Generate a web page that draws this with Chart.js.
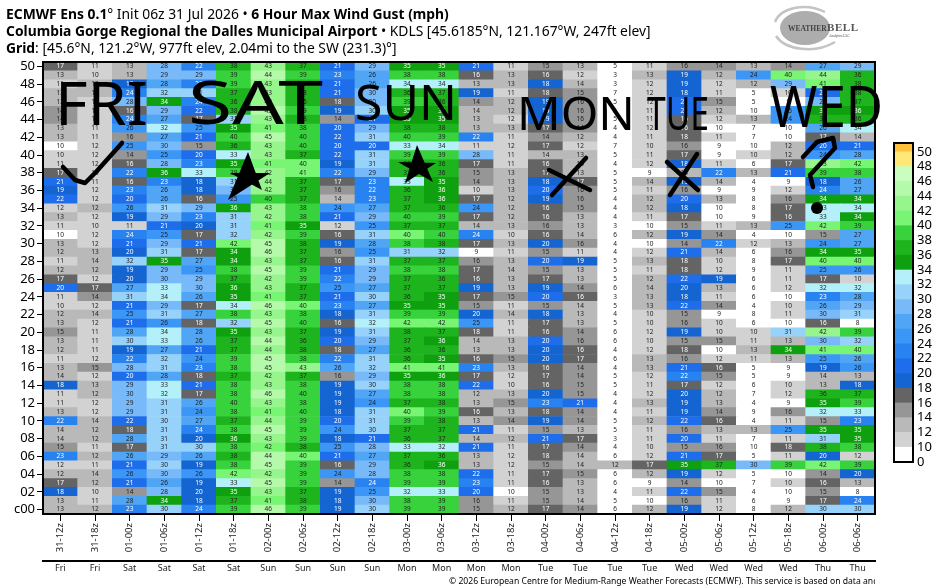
<!DOCTYPE html>
<html>
<head>
<meta charset="utf-8">
<title>ECMWF Ens 6 Hour Max Wind Gust</title>
<script src="https://cdn.jsdelivr.net/npm/chart.js@4"></script>
<style>
  body { margin: 0; background: #fff; width: 936px; height: 586px; overflow: hidden; position: relative; font-family: "Noto Sans", sans-serif; color: #000; }
  canvas { position: absolute; }
  #head { position: absolute; left: 6px; top: 5px; font-size: 13.85px; line-height: 17px; white-space: nowrap; }
  #foot { position: absolute; left: 449px; top: 575px; width: 426px; height: 12px; overflow: hidden; font-size: 8.6px; line-height: 12px; white-space: nowrap; }
  svg { position: absolute; left: 0; top: 0; }
</style>
</head>
<body>
<canvas id="gust" width="936" height="586" style="left:0;top:0"></canvas>
<canvas id="bar" width="51" height="345" style="left:885px;top:130px"></canvas>
<div id="head">
  <div><b>ECMWF Ens 0.1</b>° Init 06z 31 Jul 2026 • <b>6 Hour Max Wind Gust (mph)</b></div>
  <div><b>Columbia Gorge Regional the Dalles Municipal Airport</b> • KDLS [45.6185°N, 121.167°W, 247ft elev]</div>
  <div><b>Grid</b>: [45.6°N, 121.2°W, 977ft elev, 2.04mi to the SW (231.3)°]</div>
</div>
<div id="foot">© 2026 European Centre for Medium-Range Weather Forecasts (ECMWF). This service is based on data and products</div>

<svg width="936" height="586">
  <!-- logo -->
  <path d="M775,22 C780,8 805,2 825,12" fill="none" stroke="#c4c4c4" stroke-width="2.5"/>
  <path d="M776,36 C785,50 815,54 835,42" fill="none" stroke="#c4c4c4" stroke-width="2.5"/>
  <ellipse cx="805" cy="28" rx="25" ry="17" fill="#adadad"/>
  <text x="788" y="31" font-family="Liberation Serif" font-size="7.5" font-weight="bold" fill="#444">WEATHER</text>
  <text x="827" y="31" font-family="Liberation Serif" font-size="11" font-weight="bold" fill="#555" textLength="31">BELL</text>
  <text x="829" y="37" font-family="Liberation Serif" font-size="3.5" fill="#444">Analytics LLC</text>
  <!-- marker scribbles on the plot -->
  <g font-family="Noto Sans" fill="#000">
    <text x="55" y="125" font-size="60" textLength="93" lengthAdjust="spacingAndGlyphs">FRI</text>
    <text x="188" y="124" font-size="60" textLength="135" lengthAdjust="spacingAndGlyphs">SAT</text>
    <text x="355" y="120" font-size="50" textLength="102" lengthAdjust="spacingAndGlyphs">SUN</text>
    <text x="517" y="130" font-size="46" textLength="118" lengthAdjust="spacingAndGlyphs">MON</text>
    <text x="647" y="130" font-size="46" textLength="62" lengthAdjust="spacingAndGlyphs">TUE</text>
    <text x="770" y="127" font-size="56" textLength="113" lengthAdjust="spacingAndGlyphs">WED</text>
  </g>
  <g fill="none" stroke="#000" stroke-width="4.5" stroke-linecap="round" stroke-linejoin="round">
    <path d="M63,167 L75,180 L85,183 L96,172 L122,143"/>
    <path d="M549,170 L590,190 M586,158 L552,195"/>
    <path d="M667,162 L698,190 M697,154 L670,195"/>
    <path d="M803,157 L817,142 L833,138 L835,148 L810,175 L813,187"/>
  </g>
  <path d="M228,200 L248,152 L262,190 L230,173 L270,173 Z" fill="#000"/>
  <path d="M405,183 L417,145 L433,182 L398,162 L436,163 Z" fill="#000"/>
  <circle cx="817" cy="208" r="6" fill="#000"/>
</svg>

<script>
const runs = ["31-12z","31-18z","01-00z","01-06z","01-12z","01-18z","02-00z","02-06z","02-12z","02-18z","03-00z","03-06z","03-12z","03-18z","04-00z","04-06z","04-12z","04-18z","05-00z","05-06z","05-12z","05-18z","06-00z","06-06z"];
const days = ["Fri","Fri","Sat","Sat","Sat","Sat","Sun","Sun","Sun","Sun","Mon","Mon","Mon","Mon","Tue","Tue","Tue","Tue","Wed","Wed","Wed","Wed","Thu","Thu"];

// gust per ensemble member, in mph. Tenths only say which colour bin a rounded value falls in
const m50 = [17,11,13,28.4,22.4,37.6,43,37,21,29,35,35,21,11,15,13,5,11,15.6,14.4,13,14.4,27,29];
const m49 = [13,10.4,13,29,29,39,44.4,39,23,26.4,38.4,38.4,16.4,13,16.4,11.6,3,13,19,12.4,24.4,40.4,43.6,36.4];
const m48 = [11,13,19,27.6,23,39,43,37.6,21,26.4,33.6,33.6,13,13,18.4,13.6,3,11.6,19,11.6,12.4,29,41,37.6];
const m47 = [13,13.6,23.6,31.6,31,37,43,37.6,21,29.6,36.4,37,19,11,17.6,15,7,11.6,18.4,11,5,10.4,21,37.6];
const m46 = [12.4,11.6,28.4,34.4,23.6,36.4,43,36.4,17.6,29.6,39,36.4,14.4,12.4,19,15.6,5,11.6,21,15,5,9,29,37];
const m45 = [14.4,10.4,16.4,29,21.6,37.6,45,39,19,30.4,35,35,13.6,12.4,19,15.6,5,11,21,12.4,9.6,25,35,35.6];
const m44 = [14.4,11,23.6,27,17,31,43,37.6,14.4,21,35,35,13,11.6,19,15.6,5,11,16.4,11.6,13,24.4,36.4,36.4];
const m43 = [13,11,25.6,32.4,25,35,41,38.4,20.4,29,37.6,37.6,13,13,17,14.4,4,11.6,16.4,9.6,7,9.6,26.4,33.6];
const m42 = [13,11,15.6,27,21,39.6,45,39.6,21.6,31,39.6,39,22.4,11,14.4,12.4,4,11,17.6,11,7,9.6,17,13.6];
const m41 = [9.6,11.6,25,29.6,15,36.4,43,39.6,20.4,20.4,33,33.6,11,11.6,17,11.6,7,10.4,15.6,9,9.6,12.4,20.4,21];
const m40 = [10.4,11.6,14.4,25,20.4,33,43,37,21.6,31,39,39,28.4,11,13.6,13,5,11,17,9,10.4,12.4,24.4,27.6];
const m39 = [11,11.6,16.4,28.4,23,35,41,40.4,19,31,36.4,36.4,17,11,16.4,13,4,11.6,18.4,11,6,17,43,41.6];
const m38 = [17,10.4,22.4,35.6,33,39,42.4,41,22.4,29,37,36.4,15,13,17,13,5,9,13.6,22.4,13,21,39,38.4];
const m37 = [21,11,16.4,23,18.4,31,43.6,37,17,23,33,35,14.4,13,18.4,17,5,13.6,19,13.6,4,9,18.4,26.4];
const m36 = [19,11.6,23,26.4,18.4,29.6,42.4,37,15.6,22.4,36.4,35.6,10.4,13,20.4,15.6,5,11,15.6,9,9,11.6,23.6,27];
const m35 = [21.6,11.6,20.4,26.4,16.4,25,39.6,37,13.6,23,37,35.6,17,12.4,19,15.6,4,12.4,20.4,13,8,15.6,34.4,34.4];
const m34 = [11.6,12.4,25.6,31,29,35.6,43,38.4,24.4,27,37,36.4,24.4,12.4,16.4,15,4,12.4,18.4,9.6,8,17,33,33.6];
const m33 = [13,11.6,19,29,23,31,42.4,38.4,21,29,39.6,39,17,12.4,16.4,13,4,11,17,9.6,9,16.4,33,34.4];
const m32 = [11,10.4,11,21,19.6,31,41,35,11.6,25,37,37,13.6,13,15.6,13,3,9.6,15,11,13,25,41.6,39];
const m31 = [9.6,11.6,23.6,25,17,31.6,42.4,39,16.4,31,40.4,39.6,23.6,10.4,16.4,13.6,6,12.4,19,14.4,4,9.6,15,27];
const m30 = [13,11.6,21,29,21,41.6,45,37.6,19,27.6,38.4,37.6,17,13,19.6,15.6,4,9.6,14.4,22.4,11.6,13,24.4,27];
const m29 = [12.4,13,19.6,31,17,34.4,45.6,37,15.6,25,31,31.6,9,11,15,11,4,11.6,21,13.6,6,15.6,34.4,35];
const m28 = [11,13.6,31.6,35,27,34.4,43,37,16.4,31,37,37,15.6,13,20.4,19,5,13,17.6,10.4,8,17,40.4,40.4];
const m27 = [12.4,12.4,19,29,25,38.4,45,39,21,29,38.4,38.4,17,13.6,15,13,5,11,17.6,11.6,9,11,25,25.6];
const m26 = [17,11.6,19.6,29.6,29,37,42.4,39,22.4,29,37,36.4,16.4,13,17,13,5,12.4,21.6,19,6,11,17,10.4];
const m25 = [20.4,17,27,33,29.6,35.6,43,37,25,27,37,37,19,13,19,14.4,6,13.6,19.6,13,6,11.6,32.4,32.4];
const m24 = [11,14.4,31,33.6,26.4,35,41,37,21,30.4,36.4,35,17,15,20.4,16.4,3,13,18.4,11,6,9.6,23,27.6];
const m23 = [10.4,11.6,21,29,17,33.6,45.6,40.4,23,27,35,35,15,11,15,13.6,5,13,21.6,14.4,4,10.4,26.4,29];
const m22 = [12.4,13.6,25,31,27,38.4,43,38.4,18.4,31,39,39,19.6,13.6,18.4,13,4,10.4,15,9,8,11,29.6,31];
const m21 = [13,11.6,21,25.6,17.6,31.6,45,39.6,16.4,32.4,41.6,41.6,25,11,17,13,5,10.4,15.6,10.4,6,9.6,16.4,8];
const m20 = [15,11,27.6,33.6,27.6,35,43,37,19,31,37.6,37,17.6,11,16.4,14.4,6,11.6,19,10.4,10.4,31,42.4,39];
const m19 = [13,11,30.4,33,26.4,37,44.4,36.4,20.4,29,37,35.6,13.6,13,20.4,15.6,6,10.4,15,15,11,13,29.6,31.6];
const m18 = [12.4,11,19,27,21,37,43.6,37.6,17.6,27,36.4,36.4,13,13,19.6,16.4,4,11.6,17.6,9.6,13,34.4,41,40.4];
const m17 = [11,11.6,22.4,31.6,24.4,39,45,38.4,22.4,31,36.4,35,16.4,15,19.6,17,6,13,15.6,11.6,11,13,25,26.4];
const m16 = [13,15,28.4,31,23,38.4,45,43,26.4,31.6,41,41,23,13,16.4,14.4,4,13,21,16.4,5,9,19,25.6];
const m15 = [13.6,11.6,20.4,27.6,17.6,37,42.4,37,15.6,29,35,35.6,17,11.6,17,14.4,5,11.6,22.4,15,5,9,13.6,13];
const m14 = [18.4,13,29,33,21,38.4,43,38.4,19,30.4,38.4,38.4,21.6,10.4,16.4,15,5,11,17,11.6,6,10.4,13,18.4];
const m13 = [11,12.4,29.6,32.4,17,38.4,45.6,39.6,19,27,38.4,38.4,12.4,13,19.6,15,4,11.6,19.6,12.4,7,11.6,36.4,37];
const m12 = [11,11.6,29,31,26.4,39.6,43,38.4,19,24.4,37,37.6,13,15,23,21,4,13,19,13,4,9,35,39];
const m11 = [13,11.6,29,31,24.4,38.4,41,39.6,18.4,31,40.4,39,16.4,13,17.6,14.4,4,11,19,14.4,9,15.6,32.4,33];
const m10 = [22.4,13.6,21.6,30.4,27,37,43.6,39,20.4,31,39,37.6,13,14.4,19,14.4,5,12.4,21.6,16.4,4,11,15,23];
const m09 = [13.6,12.4,17.6,31,23.6,38.4,45,39,24.4,30.4,37,37,21,11,15,13,5,11,15.6,13,13,25,35,35];
const m08 = [13.6,12.4,27.6,31,19.6,35.6,43,39,18.4,21,36.4,37,13.6,12.4,21,17,3,11,20.4,11,7,11,31,35];
const m07 = [15,11,17,31,30.4,38.4,41.6,37.6,25,28.4,33,32.4,21,11,17,14.4,4,10.4,15,15.6,9.6,17.6,37.6,38.4];
const m06 = [23,12.4,26.4,29,26.4,37.6,44.4,40.4,21,27,37,36.4,13,11.6,17.6,13.6,6,11.6,21,17,5,11,19.6,11.6];
const m05 = [11.6,11,21,30.4,19,38.4,45,39,16.4,29,36.4,35.6,13,11.6,15,13.6,12.4,17,35,37,29.6,39,41.6,39];
const m04 = [12.4,13.6,25.6,29.6,25.6,41.6,42.4,39,24.4,28.4,38.4,38.4,21.6,11,17,15,6,12.4,19,11.6,5,9.6,14.4,19.6];
const m03 = [17,12.4,21,26.4,19,33,45,39,14.4,23.6,39,39,23,11,16.4,13,6,9,14.4,9.6,7,10.4,16.4,13];
const m02 = [18.4,10.4,14.4,28.4,19.6,35,43,37,19,25,32.4,33,20.4,9.6,15,13,4,11,21.6,15,4,9.6,15,8];
const m01 = [13,11,27.6,34.4,18.4,37,41,37.6,18.4,29.6,38.4,39,15.6,11,15,13.6,5,9.6,15.6,11,6,9,17,23.6];
const m00 = [13,12.4,23,30.4,23.6,39,45.6,39,19,30.4,39,39,15,12.4,17,14.4,6,12.4,19,11.6,8,12.4,30.4,30.4];

const members = [m00,m01,m02,m03,m04,m05,m06,m07,m08,m09,m10,m11,m12,m13,m14,m15,m16,m17,m18,m19,m20,m21,m22,m23,m24,m25,m26,m27,m28,m29,m30,m31,m32,m33,m34,m35,m36,m37,m38,m39,m40,m41,m42,m43,m44,m45,m46,m47,m48,m49,m50];

// colour scale: binEdges[i] is the lower edge of binColors[i]
const binEdges = [0,10,12,14,16,18,20,22,24,26,28,30,32,34,36,38,40,42,44,46,48,50];
const binColors = ["#ffffff","#d2d2d2","#b9b9b9","#969696","#646464","#1464d2","#1e6eeb","#2882f0","#3c96f5","#50a5f5","#78b9fa","#96d2fa","#b4f0fa","#0fa00f","#1eb41e","#37d23c","#78f573","#96f58c","#b4faaa","#c8ffbe","#ffe878","#ffc03c"];

const binOf = (v) => {
  let i = 0;
  while (i + 1 < binEdges.length && v >= binEdges[i + 1]) i++;
  return i;
};
const textColor = (v) => ((v >= 16 && v < 24) || (v >= 34 && v < 36) ? "#fff" : "#222");

const cellLabels = {
  id: "cellLabels",
  afterDatasetsDraw(chart) {
    const ctx = chart.ctx;
    ctx.save();
    ctx.font = '6.5px "Noto Sans"';
    ctx.textAlign = "center";
    ctx.textBaseline = "middle";
    members.forEach((row, r) => {
      chart.getDatasetMeta(r).data.forEach((el, c) => {
        const p = el.getCenterPoint();
        ctx.fillStyle = textColor(row[c]);
        ctx.fillText(Math.round(row[c]), p.x, p.y);
      });
    });
    ctx.restore();
  },
};

const frame = {
  id: "frame",
  afterDraw(chart) {
    const a = chart.chartArea;
    const ctx = chart.ctx;
    ctx.save();
    ctx.strokeStyle = "#000";
    ctx.lineWidth = 2;
    ctx.strokeRect(a.left, a.top, a.right - a.left, a.bottom - a.top);
    ctx.restore();
  },
};

new Chart(document.getElementById("gust"), {
  type: "bar",
  data: {
    labels: runs,
    datasets: members.map((row, r) => ({
      data: row.map(() => [r - 0.5, r + 0.5]),
      backgroundColor: row.map((v) => binColors[binOf(v)]),
      borderWidth: 0,
      grouped: false,
      barPercentage: 1,
      categoryPercentage: 1,
      xAxisID: "x",
      yAxisID: "y",
    })),
  },
  plugins: [cellLabels, frame],
  options: {
    responsive: false,
    animation: false,
    layout: { padding: { top: 62, right: 61, left: 0, bottom: 0 } },
    plugins: { legend: { display: false }, tooltip: { enabled: false } },
    scales: {
      x: {
        position: "bottom",
        grid: { drawOnChartArea: false, offset: false, color: "#000", tickLength: 7 },
        border: { display: false },
        ticks: {
          autoSkip: false,
          minRotation: 90,
          maxRotation: 90,
          padding: 2,
          color: "#222",
          font: { family: "Noto Sans", size: 9.5 },
        },
        afterFit: (s) => { s.height = 47; },
      },
      x2: {
        type: "category",
        labels: days,
        offset: true,
        position: "bottom",
        grid: { display: false, drawTicks: false },
        border: { display: true, color: "#000", width: 2 },
        ticks: {
          autoSkip: false,
          maxRotation: 0,
          padding: 2,
          color: "#222",
          font: { family: "Noto Sans", size: 9 },
        },
        afterFit: (s) => { s.height = 25; },
      },
      y: {
        min: -0.5,
        max: 50.5,
        grid: { drawOnChartArea: false, color: "#000", tickLength: 6 },
        border: { display: false },
        ticks: {
          stepSize: 2,
          includeBounds: false,
          autoSkip: false,
          padding: 2,
          color: "#000",
          font: { family: "Noto Sans", size: 13 },
          callback: (v) => (v === 0 ? "c00" : String(v).padStart(2, "0")),
        },
        afterFit: (s) => { s.width = 43; },
      },
    },
  },
});

// colour bar, one box per bin. The top box is cut short
const topBoxTop = binEdges.length - 1 + 0.6;
new Chart(document.getElementById("bar"), {
  type: "bar",
  data: {
    labels: [""],
    datasets: binColors.map((color, i) => ({
      data: [[i, Math.min(i + 1, topBoxTop)]],
      backgroundColor: color,
      borderWidth: 0,
      grouped: false,
      barPercentage: 1,
      categoryPercentage: 1,
    })),
  },
  plugins: [frame],
  options: {
    responsive: false,
    animation: false,
    layout: { padding: { top: 13, bottom: 13, left: 9, right: 0 } },
    plugins: { legend: { display: false }, tooltip: { enabled: false } },
    scales: {
      x: { display: false },
      y: {
        position: "right",
        min: 0,
        max: topBoxTop,
        grid: { display: false, drawTicks: false },
        border: { display: false },
        ticks: {
          stepSize: 1,
          includeBounds: false,
          autoSkip: false,
          padding: 4,
          color: "#000",
          font: { family: "Noto Sans", size: 13 },
          callback: (v) => binEdges[v],
        },
        afterFit: (s) => { s.width = 23; },
      },
    },
  },
});
</script>
</body>
</html>
